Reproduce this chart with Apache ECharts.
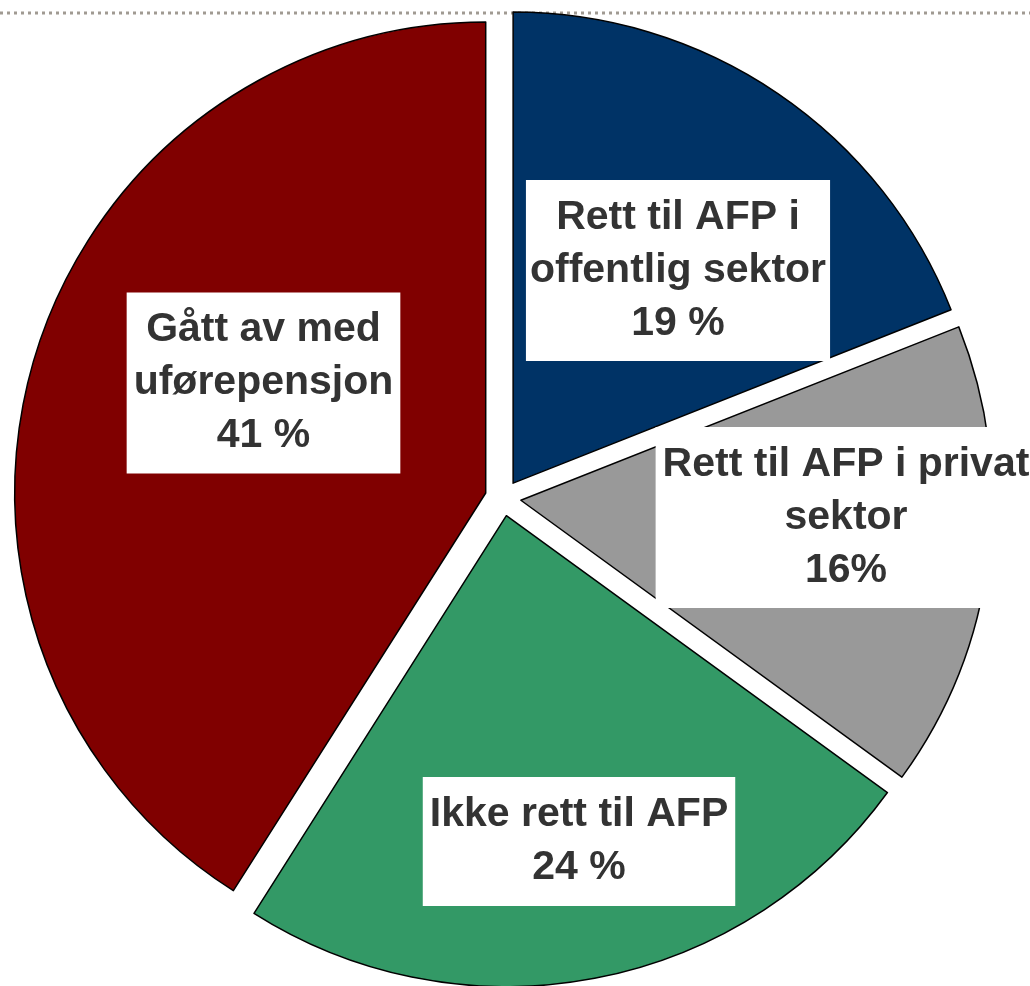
<!DOCTYPE html>
<html style="height: 100%;">
  <head>
    <meta charset="utf-8" />
    <script src="https://cdn.jsdelivr.net/npm/echarts/dist/echarts.min.js"></script>
  </head>
  <body style="height: 100%; margin: 0; background: #fff;">
    <div id="container" style="width: 1030px; height: 986px;"></div>
    <script type="text/javascript">
      // data
      var categories = [
        "Rett til AFP i\noffentlig sektor",
        "Rett til AFP i privat\nsektor",
        "Ikke rett til AFP",
        "Gått av med\nuførepensjon",
      ];
      var values = [19, 16, 24, 41];
      var pctLabels = ["19 %", "16%", "24 %", "41 %"];

      // styles / layout (not data)
      var colors = ["#003366", "#999999", "#339966", "#800000"];
      var labelPos = [
        [678, 270.5],
        [846, 517.5],
        [579, 841.5],
        [263.5, 383],
      ];
      var labelPad = [
        [11, 4, 11, 4],
        [11, 7, 11, 7],
        [12, 7, 11, 7],
        [11, 7, 11, 7],
      ];

      var dom = document.getElementById("container");
      var myChart = echarts.init(dom);

      var pieData = categories.map(function (name, i) {
        return {
          name: name,
          value: values[i],
          selected: true,
          itemStyle: { color: colors[i] },
        };
      });

      // white label boxes placed inside each slice
      var labelBoxes = categories.map(function (name, i) {
        return {
          type: "text",
          z: 100,
          x: labelPos[i][0],
          y: labelPos[i][1],
          style: {
            text: name + "\n" + pctLabels[i],
            align: "center",
            verticalAlign: "middle",
            fill: "#333",
            font: "bold 41px 'Liberation Sans'",
            lineHeight: 53,
            backgroundColor: "#fff",
            padding: labelPad[i],
          },
        };
      });

      var option = {
        animation: false,
        backgroundColor: "#fff",
        graphic: [
          {
            type: "line",
            z: -10,
            shape: { x1: 0, y1: 13, x2: 1030, y2: 13 },
            style: { stroke: "#a09a92", lineWidth: 3, lineDash: [3, 4] },
          },
        ].concat(labelBoxes),
        series: [
          {
            type: "pie",
            silent: true,
            center: [503, 498],
            radius: [0, 471],
            startAngle: 90,
            clockwise: true,
            selectedMode: "multiple",
            selectedOffset: 18,
            itemStyle: { borderColor: "#000", borderWidth: 1.5 },
            select: { itemStyle: { borderColor: "#000", borderWidth: 1.5 } },
            emphasis: { disabled: true },
            label: { show: false },
            labelLine: { show: false },
            data: pieData,
          },
        ],
      };
      myChart.setOption(option);
    </script>
  </body>
</html>
